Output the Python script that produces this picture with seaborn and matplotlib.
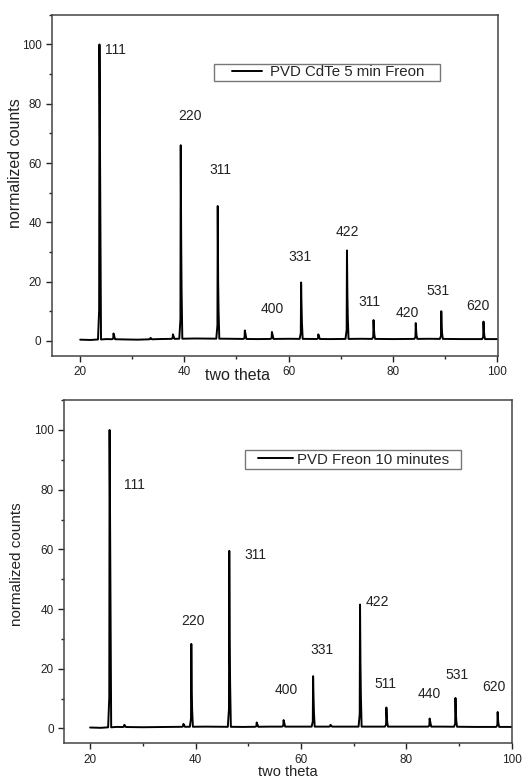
import matplotlib
matplotlib.use("Agg")
import matplotlib.pyplot as plt
import seaborn as sns
import numpy as np
from matplotlib.ticker import MultipleLocator
from matplotlib.patches import Rectangle

# peak positions (two theta), heights, Ka2 shoulder heights
top_pos = [23.7, 26.4, 33.5, 37.8, 39.3, 46.4, 51.6, 56.8, 62.4, 65.7, 71.2, 76.3, 84.4, 89.3, 97.4]
top_h   = [100, 2.5, 1.0, 2.2, 66, 45.5, 3.5, 3.0, 19.7, 2.2, 30.5, 7.0, 6.0, 10.0, 6.5]
top_sh  = [0, 0, 0, 0, 35, 20, 0, 0, 12, 0, 16, 4, 3.5, 5, 3.5]
top_base_x = [20, 22, 25, 28, 31, 35, 42, 49, 54, 60, 68, 74, 80, 87, 93, 100]
top_base_y = [0.4, 0.3, 0.6, 0.5, 0.4, 0.6, 0.8, 0.7, 0.6, 0.7, 0.6, 0.7, 0.6, 0.7, 0.6, 0.6]
top_labels = ["111", "220", "311", "400", "331", "422", "311", "420", "531", "620"]
top_lab_x  = [26.7, 41.1, 47.0, 56.8, 62.1, 71.2, 75.5, 82.7, 88.7, 96.3]
top_lab_y  = [98, 76, 57.7, 10.7, 28.2, 36.8, 13.1, 9.4, 16.9, 11.9]

bot_pos = [23.7, 26.5, 37.7, 39.2, 46.4, 51.6, 56.7, 62.3, 65.6, 71.2, 76.2, 84.4, 89.3, 97.3]
bot_h   = [100, 1.2, 1.5, 28.3, 59.5, 2.0, 2.8, 17.5, 1.2, 41.5, 7.0, 3.3, 10.2, 5.5]
bot_sh  = [0, 0, 0, 12, 30, 0, 0, 10.5, 0, 22, 4, 0, 5, 3]
bot_base_x = [20, 22, 25, 30, 35, 42, 49, 54, 60, 68, 74, 80, 87, 93, 100]
bot_base_y = [0.3, 0.2, 0.5, 0.4, 0.5, 0.6, 0.5, 0.6, 0.6, 0.6, 0.6, 0.6, 0.6, 0.5, 0.5]
bot_labels = ["111", "220", "311", "400", "331", "422", "511", "440", "531", "620"]
bot_lab_x  = [28.5, 39.5, 51.4, 57.2, 63.9, 74.5, 76.1, 84.3, 89.5, 96.6]
bot_lab_y  = [81.6, 36, 58.2, 12.8, 26.3, 42.4, 14.9, 11.7, 18, 13.8]


def profile(pos, h, sh, bx, by):
    xs = list(bx)
    ys = list(by)
    for p, hh, s in zip(pos, h, sh):
        b = np.interp(p, bx, by)
        xs += [p - 0.28, p - 0.06, p]
        ys += [b, b + hh * 0.1, hh]
        if s > 0:
            xs += [p + 0.08, p + 0.16]
            ys += [s, s * 0.5]
        xs += [p + 0.3]
        ys += [b]
    order = np.argsort(xs)
    return np.array(xs)[order], np.array(ys)[order]


sns.set_style("ticks")
plt.rcParams['font.family'] = ['Liberation Sans', 'DejaVu Sans']

fig = plt.figure(figsize=(5.31, 7.80), dpi=100)
ax1 = fig.add_axes([0.098, 0.544, 0.840, 0.437])
ax2 = fig.add_axes([0.121, 0.047, 0.843, 0.440])

panels = [
    dict(ax=ax1, pos=top_pos, h=top_h, sh=top_sh, bx=top_base_x, by=top_base_y,
         labs=top_labels, lx=top_lab_x, ly=top_lab_y, name="PVD CdTe 5 min Freon",
         box=(0.363, 0.806, 0.507, 0.050), lanchor=(0.404, 0.831), hlen=2.0, hpad=0.5,
         xlim=(14.6, 100.2), xlc=(0.415, -0.035), ylc=(-0.065, 0.566), yfs=11.5, xfs=11.5),
    dict(ax=ax2, pos=bot_pos, h=bot_h, sh=bot_sh, bx=bot_base_x, by=bot_base_y,
         labs=bot_labels, lx=bot_lab_x, ly=bot_lab_y, name="PVD Freon 10 minutes",
         box=(0.404, 0.799, 0.482, 0.055), lanchor=(0.433, 0.8265), hlen=2.3, hpad=0.3,
         xlim=(15.1, 100), xlc=(0.5, -0.063), ylc=(-0.089, 0.523), yfs=11, xfs=10.5),
]

for p in panels:
    ax = p["ax"]
    x, y = profile(p["pos"], p["h"], p["sh"], p["bx"], p["by"])
    sns.lineplot(x=x, y=y, ax=ax, color="black", lw=1.4, estimator=None, sort=False, label=p["name"])
    for t, tx, ty in zip(p["labs"], p["lx"], p["ly"]):
        ax.text(tx, ty, t, ha="center", va="center", fontsize=10, color="#222222")
    ax.set_xlim(*p["xlim"])
    ax.set_ylim(-5, 110)
    ax.set_xticks([20, 40, 60, 80, 100])
    ax.set_yticks([0, 20, 40, 60, 80, 100])
    ax.xaxis.set_minor_locator(MultipleLocator(10))
    ax.yaxis.set_minor_locator(MultipleLocator(10))
    ax.tick_params(which="major", direction="out", length=4, width=1, labelsize=8.5, colors="#222222")
    ax.tick_params(which="minor", direction="out", length=2.5, width=1)
    for s in ax.spines.values():
        s.set_visible(True)
        s.set_linewidth(1.1)
        s.set_color("#444444")
    ax.set_xlabel("two theta", fontsize=p["xfs"], color="#222222")
    ax.set_ylabel("normalized counts", fontsize=p["yfs"], color="#222222")
    ax.xaxis.set_label_coords(*p["xlc"])
    ax.yaxis.set_label_coords(*p["ylc"])
    bx0, by0, bw, bh = p["box"]
    ax.add_patch(Rectangle((bx0, by0), bw, bh, transform=ax.transAxes, fill=False,
                           edgecolor="#777777", lw=1.0, zorder=5))
    ax.legend(loc="center left", bbox_to_anchor=p["lanchor"], borderaxespad=0, borderpad=0,
              frameon=False, fontsize=10.8, handlelength=p["hlen"], handletextpad=p["hpad"])

fig.savefig("out.png", dpi=100)
